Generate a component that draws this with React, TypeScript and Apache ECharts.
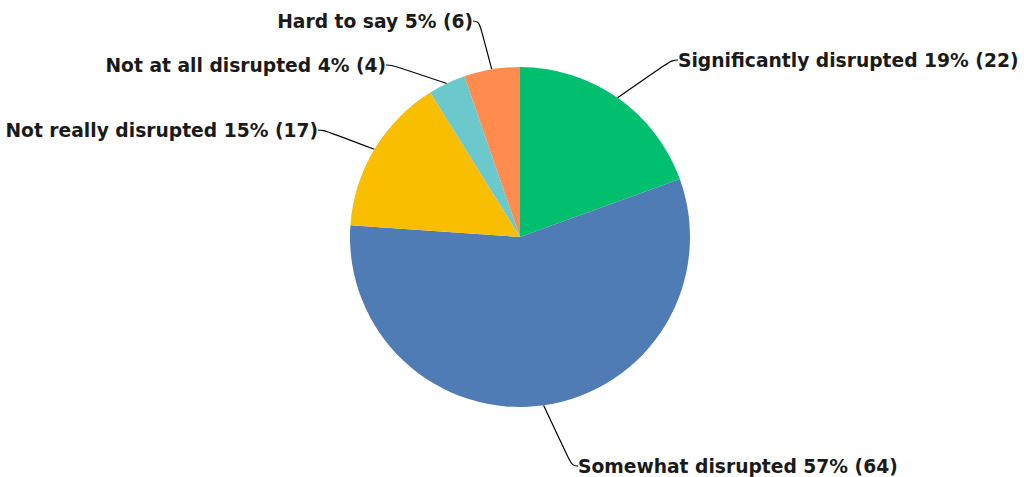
import React, { useEffect, useRef } from "react";
import * as echarts from "echarts";

const categories = [
  "Significantly disrupted",
  "Somewhat disrupted",
  "Not really disrupted",
  "Not at all disrupted",
  "Hard to say",
];
const values = [22, 64, 17, 4, 6];
const colors = ["#00bf6f", "#507cb6", "#f9be00", "#6bc8cd", "#ff8b4f"];
const labelPos = [
  { x: 678, y: 60, align: "left" },
  { x: 578, y: 466, align: "left" },
  { x: 318, y: 130, align: "right" },
  { x: 386, y: 65, align: "right" },
  { x: 473, y: 21, align: "right" },
];

export default function App() {
  const ref = useRef<HTMLDivElement>(null);
  useEffect(() => {
    if (!ref.current) return;
    const chart = echarts.init(ref.current, undefined, { renderer: "svg" });
    chart.setOption({
      animation: false,
      backgroundColor: "#ffffff",
      series: [
        {
          type: "pie",
          center: [520, 237],
          radius: 170,
          startAngle: 90,
          clockwise: true,
          avoidLabelOverlap: false,
          data: categories.map((name, i) => ({
            name,
            value: values[i],
            itemStyle: { color: colors[i] },
          })),
          label: {
            show: true,
            color: "#1a1a1a",
            fontSize: 18.7,
            fontWeight: "bold",
            fontFamily: "DejaVu Sans",
            formatter: (p: any) => `${p.name} ${Math.round(p.percent)}% (${p.value})`,
          },
          labelLine: {
            show: true,
            length: 25,
            length2: 6,
            smooth: 0.5,
            lineStyle: { color: "#000000", width: 1.2 },
          },
          labelLayout: (params: any) => {
            const lp = labelPos[params.dataIndex];
            return {
              x: lp.x,
              y: lp.y,
              align: lp.align,
              verticalAlign: "middle",
            };
          },
          emphasis: { disabled: true },
        },
      ],
    });
    return () => chart.dispose();
  }, []);
  return (
    <div
      ref={ref}
      style={{ position: "fixed", left: 0, top: 0, width: 1024, height: 477 }}
    />
  );
}
